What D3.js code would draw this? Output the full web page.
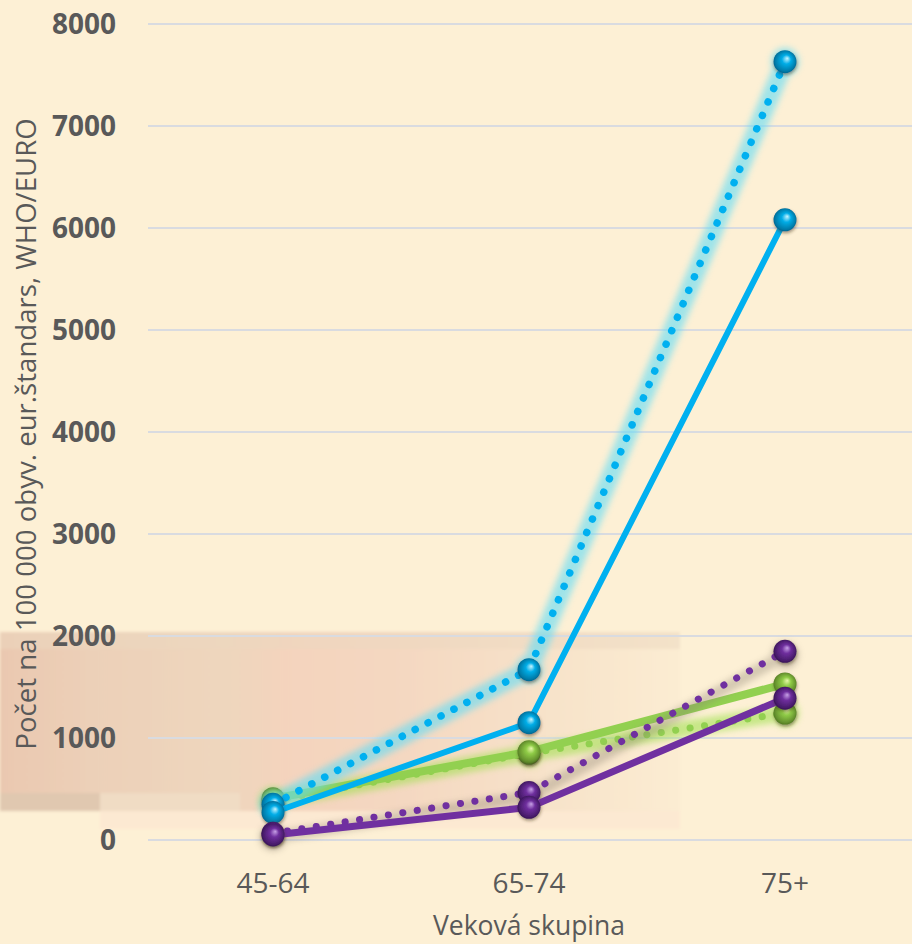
<!DOCTYPE html>
<html>
<head>
<meta charset="utf-8">
<script src="https://cdn.jsdelivr.net/npm/d3@7"></script>
<style>
  html, body { margin: 0; padding: 0; background: #fdf0d5; }
  svg { display: block; }
  text { font-family: "Open Sans", "DejaVu Sans", sans-serif; }
</style>
</head>
<body>
<svg id="chart" width="912" height="944"></svg>
<script>
// Age groups on the x axis
const categories = ["45-64", "65-74", "75+"];
// Rates per 100 000 population, one array per line
const blueDotted   = [350, 1670, 7630];
const blueSolid    = [270, 1150, 6080];
const greenDotted  = [385, 850, 1245];
const greenSolid   = [405, 865, 1530];
const purpleDotted = [65, 465, 1850];
const purpleSolid  = [50, 320, 1390];
// Y axis ticks
const yTicks = [0, 1000, 2000, 3000, 4000, 5000, 6000, 7000, 8000];
const yTitle = "Počet na 100 000 obyv. eur.štandars, WHO/EURO";
const xTitle = "Veková skupina";

const W = 912, H = 944;
const svg = d3.select("#chart");
const defs = svg.append("defs");

// ---- filters ----
const blur = (id, sd) => defs.append("filter").attr("id", id)
  .attr("x", "-20%").attr("y", "-20%").attr("width", "140%").attr("height", "140%")
  .append("feGaussianBlur").attr("stdDeviation", sd);
blur("bgBlur", 1.5);
blur("glowBlur", 3);
const ds = defs.append("filter").attr("id", "ballShadow")
  .attr("x", "-50%").attr("y", "-50%").attr("width", "200%").attr("height", "200%");
ds.append("feDropShadow").attr("dx", 0.5).attr("dy", 2).attr("stdDeviation", 1.6)
  .attr("flood-color", "#3a2a1a").attr("flood-opacity", 0.45);

// ---- sphere gradients for markers ----
function sphere(id, hi, base, dark) {
  const g = defs.append("radialGradient").attr("id", id)
    .attr("cx", "50%").attr("cy", "50%").attr("r", "55%")
    .attr("fx", "60%").attr("fy", "35%");
  g.append("stop").attr("offset", "0%").attr("stop-color", hi);
  g.append("stop").attr("offset", "35%").attr("stop-color", base);
  g.append("stop").attr("offset", "80%").attr("stop-color", d3.interpolateRgb(base, dark)(0.6));
  g.append("stop").attr("offset", "100%").attr("stop-color", dark);
}
sphere("ballBlue", "#c6f5ff", "#06aee8", "#005a80");
sphere("ballGreen", "#e6f8a8", "#8fcb47", "#4a6e1e");
sphere("ballPurple", "#c7a0e6", "#6f2f9e", "#2f0f4a");

// ---- background: cream with a soft peach band behind the lower part ----
svg.append("rect").attr("width", W).attr("height", H).attr("fill", "#fdf0d5");
const bgGrad = defs.append("linearGradient").attr("id", "peach")
  .attr("x1", "0%").attr("x2", "100%").attr("y1", "0%").attr("y2", "0%");
[[0, "#eac8b0"], [0.14, "#ecd0b8"], [0.33, "#eed6bd"], [0.42, "#f4d3bd"],
 [0.6, "#f4d8c1"], [0.8, "#f7e2c9"], [1, "#fbecd2"]]
  .forEach(([o, c]) => bgGrad.append("stop").attr("offset", o).attr("stop-color", c));
const bg = svg.append("g").attr("filter", "url(#bgBlur)");
bg.append("rect").attr("x", 0).attr("y", 632).attr("width", 680).attr("height", 179).attr("fill", "url(#peach)");
bg.append("rect").attr("x", 0).attr("y", 632).attr("width", 680).attr("height", 17).attr("fill", "#ebd8c0").attr("opacity", 0.5);
bg.append("rect").attr("x", 0).attr("y", 793).attr("width", 100).attr("height", 18).attr("fill", "#e0c8b0");
bg.append("rect").attr("x", 100).attr("y", 793).attr("width", 140).attr("height", 18).attr("fill", "#f0dcc4");
bg.append("rect").attr("x", 100).attr("y", 811).attr("width", 580).attr("height", 18).attr("fill", "#fce7d1").attr("opacity", 0.8);

// ---- scales ----
const x = d3.scalePoint().domain(categories).range([145, 913]).padding(0.5);
const y = d3.scaleLinear().domain([0, 8000]).range([840, 24]);

// ---- grid + y tick labels ----
svg.append("g").selectAll("line").data(yTicks).join("line")
  .attr("x1", 148).attr("x2", W).attr("y1", d => y(d)).attr("y2", d => y(d))
  .attr("stroke", "#d9dbe0").attr("stroke-width", 2);
svg.append("g").selectAll("text").data(yTicks).join("text")
  .attr("x", 116).attr("y", d => y(d) + 10)
  .attr("text-anchor", "end").attr("font-size", 28).attr("font-weight", 700)
  .attr("fill", "#595959").text(d => d);

// ---- x tick labels ----
svg.append("g").selectAll("text").data(categories).join("text")
  .attr("x", d => x(d)).attr("y", 893).attr("text-anchor", "middle")
  .attr("font-size", 28).attr("fill", "#595959").text(d => d);

// ---- axis titles ----
svg.append("text").attr("x", 529).attr("y", 935).attr("text-anchor", "middle")
  .attr("font-size", 26.5).attr("fill", "#595959").text(xTitle);
svg.append("text").attr("transform", "translate(36,434) rotate(-90)")
  .attr("text-anchor", "middle").attr("font-size", 27.6).attr("fill", "#595959").text(yTitle);

// ---- series ----
const line = d3.line().x((d, i) => x(categories[i])).y(d => y(d));
const series = [
  { values: greenDotted,  color: "#92d050", dash: true,  width: 7, ball: "ballGreen",
    glow: { color: "#9be04a", width: 16, opacity: 0.55, dy: 0 } },
  { values: greenSolid,   color: "#92d050", dash: false, width: 8, ball: "ballGreen" },
  { values: blueDotted,   color: "#00b0f0", dash: true,  width: 7.5, ball: "ballBlue",
    glow: { color: "#62dcf6", width: 18, opacity: 0.6, dy: 0 } },
  { values: blueSolid,    color: "#00b0f0", dash: false, width: 6, ball: "ballBlue" },
  { values: purpleDotted, color: "#7030a0", dash: true,  width: 7, ball: "ballPurple",
    glow: { color: "#8a8070", width: 12, opacity: 0.35, dy: 4 } },
  { values: purpleSolid,  color: "#7030a0", dash: false, width: 7, ball: "ballPurple" }
];

series.forEach(s => {
  const g = svg.append("g");
  if (s.glow) {
    const gg = g.append("g").attr("filter", "url(#glowBlur)")
      .attr("opacity", s.glow.opacity).attr("transform", `translate(0,${s.glow.dy})`);
    gg.append("path").attr("d", line(s.values)).attr("fill", "none")
      .attr("stroke", s.glow.color).attr("stroke-width", s.glow.width)
      .attr("stroke-linejoin", "round").attr("stroke-linecap", "round");
    gg.selectAll("circle").data(s.values).join("circle")
      .attr("cx", (d, i) => x(categories[i])).attr("cy", d => y(d)).attr("r", 14)
      .attr("fill", s.glow.color);
  }
  g.append("path").attr("d", line(s.values)).attr("fill", "none")
    .attr("stroke", s.color).attr("stroke-width", s.width)
    .attr("stroke-linejoin", "round")
    .attr("stroke-linecap", s.dash ? "round" : "butt")
    .attr("stroke-dasharray", s.dash ? "0.1 14.5" : null);
  g.selectAll("circle.ball").data(s.values).join("circle").attr("class", "ball")
    .attr("cx", (d, i) => x(categories[i])).attr("cy", d => y(d)).attr("r", 11.5)
    .attr("fill", `url(#${s.ball})`).attr("filter", "url(#ballShadow)");
});
</script>
</body>
</html>
